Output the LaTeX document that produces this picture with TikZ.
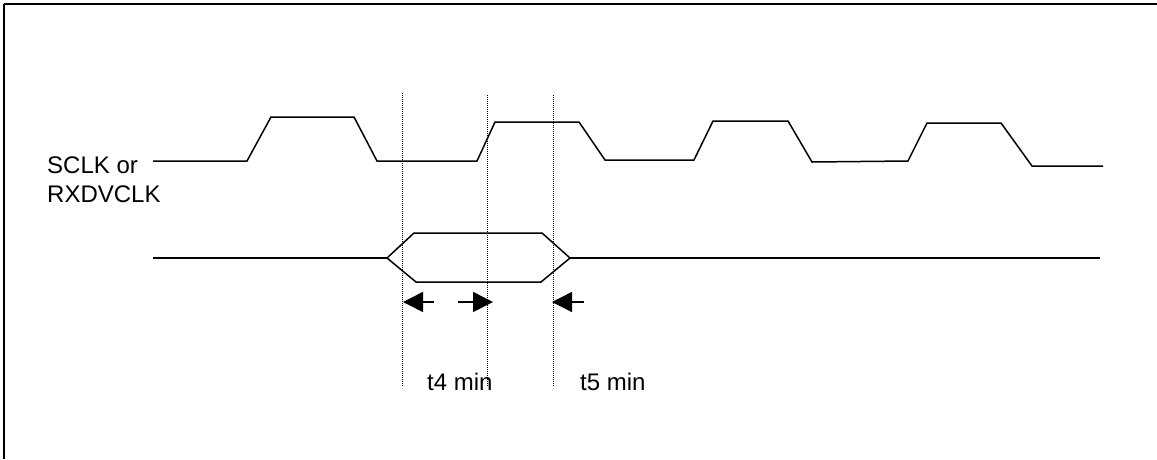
\documentclass[tikz,border=0pt]{standalone}
\usepackage{fontspec}
\setmainfont{Liberation Sans}
\usetikzlibrary{arrows.meta}
\begin{document}
\begin{tikzpicture}[x=1pt,y=-1pt,
  wave/.style={line width=1.5pt, line join=miter},
  frame/.style={line width=2pt},
  guide/.style={line width=0.9pt, dash pattern=on 1pt off 1pt},
  lbl/.style={font=\fontsize{24}{29}\selectfont, inner sep=0pt, anchor=base west},
  marker/.style={line width=1.5pt, -{Triangle[length=20pt,width=20pt]}}]
\useasboundingbox (0,0) rectangle (1157,459);
% frame (top and left edges visible)
\draw[frame] (3.8,4.3) -- (1157,4.3);
\draw[frame] (3.8,4.3) -- (3.8,459);
% labels
\node[lbl] (sclk) at (47,173) {SCLK or};
\node[lbl] (rxd) at (47,202) {RXDVCLK};
% clock waveform
\draw[wave] (153,161) -- (247,161) -- (271,117) -- (354,117) -- (377,161)
  -- (477,161) -- (495,122) -- (579,122) -- (605,160) -- (694,160)
  -- (713,121) -- (788,121) -- (812,162) -- (908,161) -- (927,123)
  -- (1001,123) -- (1032,166) -- (1103,166);
% data line
\coordinate (dl) at (387,258);
\coordinate (dr) at (570,258);
\draw[wave] (153,258) -- (dl);
\draw[wave] (dl) -- (414,233) -- (542,233) -- (dr) -- (541,282) -- (416,282) -- cycle;
\draw[wave] (dr) -- (1100,258);
% dotted guides
\draw[guide] (402,93) -- (402,386);
\draw[guide] (487,95) -- (487,386);
\draw[guide] (553,95) -- (553,386);
% arrows
\coordinate (a1t) at (434,302); \coordinate (a1h) at (403,302);
\coordinate (a2t) at (458,302); \coordinate (a2h) at (493,302);
\coordinate (a3t) at (584,302); \coordinate (a3h) at (552,302);
\draw[marker] (a1t) -- (a1h);
\draw[marker] (a2t) -- (a2h);
\draw[marker] (a3t) -- (a3h);
% timing labels
\node[lbl] (t4) at (427,390) {t4 min};
\node[lbl] (t5) at (580,390) {t5 min};
\end{tikzpicture}
\end{document}
